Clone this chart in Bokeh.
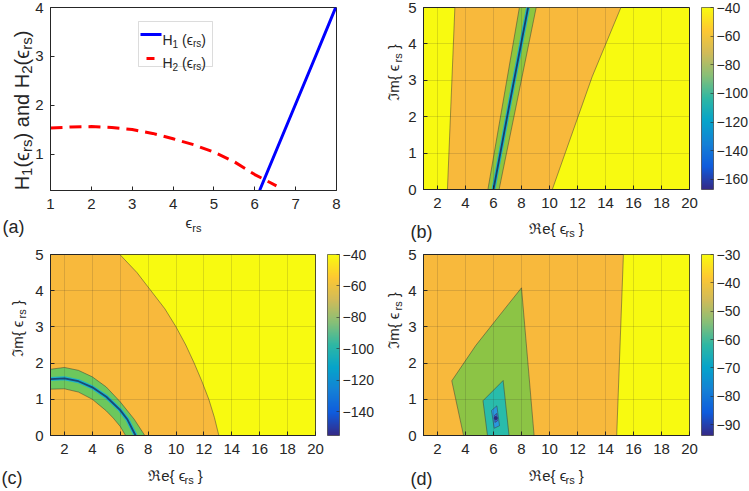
import numpy as np
from bokeh.plotting import figure
from bokeh.layouts import column
from bokeh.models import (ColorBar, LinearColorMapper, FixedTicker, Label,
                          BoxAnnotation, Arrow, Range1d, GridBox)
from bokeh.embed import file_html
from bokeh.resources import INLINE

# ---------------- data ----------------
# (a) the two boundary functions
H1_X = [6.12, 6.5, 7.0, 7.5, 7.98]
H1_Y = [0.27, 1.03, 2.03, 3.03, 4.0]
H2_X = [1.0, 1.5, 2.0, 2.5, 3.0, 3.5, 4.0, 4.5, 5.0, 5.5, 6.0, 6.53]
H2_Y = [1.54, 1.56, 1.57, 1.55, 1.51, 1.43, 1.32, 1.2, 1.05, 0.85, 0.59, 0.36]
A_XTICKS = [1, 2, 3, 4, 5, 6, 7, 8]
A_YTICKS = [1, 2, 3, 4]

# shared axes of the contour maps
RE_TICKS = [2, 4, 6, 8, 10, 12, 14, 16, 18, 20]
IM_TICKS = [0, 1, 2, 3, 4, 5]

# (b) filled contour regions (level boundaries in the complex eps plane)
B_ORANGE_X = [2.71, 3.24, 15.1, 13.05, 10.2]
B_ORANGE_Y = [0, 5, 5, 3.1, 0]
B_GREEN_X = [5.6, 7.85, 9.05, 6.4]
B_GREEN_Y = [0, 5, 5, 0]
B_MIN_X = [6.0, 7.22, 8.47]
B_MIN_Y = [0, 2.5, 5]
B_CBAR_TICKS = [-160, -140, -120, -100, -80, -60, -40]
B_CBAR_RANGE = (-167, -40)

# (c)
C_YELLOW_X = [5.97, 7.2, 8.2, 9.2, 10.0, 10.7, 11.3, 11.85, 12.35, 12.75, 13.07, 20, 20]
C_YELLOW_Y = [5, 4.5, 4, 3.5, 3, 2.5, 2, 1.5, 1, 0.5, 0, 0, 5]
C_OUTER_X = [1, 2, 3, 4, 5, 6, 7, 7.76]
C_OUTER_Y = [1.83, 1.88, 1.80, 1.62, 1.34, 0.93, 0.45, 0]
C_INNER_X = [1, 2, 3, 4, 5, 5.5, 6, 6.38]
C_INNER_Y = [1.28, 1.29, 1.2, 1.0, 0.68, 0.48, 0.25, 0]
C_MIN_X = [1, 2, 3, 4, 5, 6, 6.5, 7.1]
C_MIN_Y = [1.56, 1.58, 1.5, 1.33, 1.07, 0.7, 0.45, 0]
C_CBAR_TICKS = [-140, -120, -100, -80, -60, -40]
C_CBAR_RANGE = (-155, -40)

# (d)
D_YELLOW_X = [14.8, 15.28, 20, 20]
D_YELLOW_Y = [0, 5, 5, 0]
D_GREEN_X = [3.86, 3.02, 4.74, 6.64, 8.0, 8.45, 8.9]
D_GREEN_Y = [0, 1.51, 2.49, 3.42, 4.08, 2.04, 0]
D_CYAN_X = [5.57, 5.25, 6.69, 7.11]
D_CYAN_Y = [0, 0.96, 1.52, 0]
D_BLUE_X = [6.05, 5.86, 6.24, 6.43]
D_BLUE_Y = [0.2, 0.69, 0.82, 0.27]
D_DEEP_X = [6.1, 6.07, 6.24, 6.28]
D_DEEP_Y = [0.36, 0.56, 0.61, 0.4]
D_MIN_X = [6.16]
D_MIN_Y = [0.48]
D_CBAR_TICKS = [-90, -80, -70, -60, -50, -40, -30]
D_CBAR_RANGE = (-93.8, -30)

# ---------------- style ----------------
FONT = "Liberation Sans"
INK = "#262626"
YELLOW = "#f8fa10"
ORANGE = "#f8b93c"
EDGE = "#3a3a3a"
PAGE_W, PAGE_H = 749, 491

PARULA_KEYS = ["#352a87", "#0f5cdd", "#1481d6", "#06a4ca", "#2eb7a4",
               "#87bf77", "#d1bb59", "#fec832", "#f9fb0e"]


def make_palette(keys, n=256):
    rgb = np.array([[int(h[i:i + 2], 16) for i in (1, 3, 5)] for h in keys], float)
    pos = np.linspace(0, 1, len(keys))
    out = []
    for t in np.linspace(0, 1, n):
        c = [int(round(np.interp(t, pos, rgb[:, k]))) for k in range(3)]
        out.append("#%02x%02x%02x" % tuple(c))
    return out


PARULA = make_palette(PARULA_KEYS)

# approximate advance widths (em) used to lay out labels with subscripts
CW = {'H': 0.722, '(': 0.333, ')': 0.333, ' ': 0.278, 'a': 0.556, 'n': 0.556,
      'd': 0.556, '1': 0.556, '2': 0.556, 'r': 0.333, 's': 0.5, 'e': 0.556,
      'm': 0.833, '{': 0.334, '}': 0.334, '\u03f5': 0.45, '\u211c': 0.80,
      '\u2111': 0.66}


def tw(s, size):
    return sum(CW.get(c, 0.55) for c in s) * size


def rich_label(p, cx, cy, parts, angle=0.0, color=INK, units="screen"):
    """Lay out (text, size, baseline shift) pieces centred on cx / cy.
    Surrounding blanks of a piece only advance the pen (SVG drops them)."""
    total = sum(tw(t, s) for t, s, _ in parts)
    pos = -total / 2.0
    for t, s, sh in parts:
        core = t.strip(" ")
        lead = len(t) - len(t.lstrip(" "))
        pos += tw(" " * lead, s)
        if angle == 0:
            x, y = cx + pos, cy + sh
        else:
            x, y = cx - sh, cy + pos
        if core:
            p.add_layout(Label(x=x, y=y, x_units=units, y_units=units, text=core,
                               text_font=FONT, text_font_size="%dpx" % s,
                               text_color=color, text_align="left",
                               text_baseline="alphabetic", angle=angle))
        pos += tw(t[lead:], s)


def eps_parts(prefix, size=15, sub=11, drop=4):
    return [(prefix + " \u03f5", size, 0), ("rs", sub, -drop), (" }", size, 0)]


def make_fig(fw, fh, bl, br, bt, bb, xr, yr, xt, yt):
    p = figure(frame_width=fw, frame_height=fh, x_range=Range1d(*xr),
               y_range=Range1d(*yr), output_backend="svg", toolbar_location=None,
               min_border_left=bl, min_border_right=br, min_border_top=bt,
               min_border_bottom=bb)
    p.background_fill_color = "white"
    p.border_fill_color = None
    p.outline_line_color = INK
    p.outline_line_width = 1
    p.xaxis.ticker = FixedTicker(ticks=xt)
    p.yaxis.ticker = FixedTicker(ticks=yt)
    for ax in p.axis:
        ax.axis_line_color = INK
        ax.major_tick_line_color = INK
        ax.major_tick_in = 4
        ax.major_tick_out = 0
        ax.minor_tick_line_color = None
        ax.major_label_text_font = FONT
        ax.major_label_text_font_size = "15px"
        ax.major_label_text_color = INK
    p.xaxis.major_label_standoff = 8
    p.yaxis.major_label_standoff = 7
    return p


def add_colorbar(p, rng, ticks):
    mapper = LinearColorMapper(palette=PARULA, low=rng[0], high=rng[1])
    cb = ColorBar(color_mapper=mapper, ticker=FixedTicker(ticks=ticks),
                  width=12, margin=0, padding=0, location=(12, 0),
                  bar_line_color=INK, bar_line_width=0.6,
                  major_tick_in=3, major_tick_out=0,
                  major_tick_line_color=INK, major_tick_line_alpha=0.6,
                  label_standoff=3, major_label_text_font=FONT,
                  major_label_text_font_size="14px",
                  major_label_text_color=INK,
                  border_line_color=None, background_fill_color=None)
    p.add_layout(cb, "right")
    return cb


def map_grid(p):
    p.grid.grid_line_color = INK
    p.grid.grid_line_alpha = 0.15
    p.grid.level = "guide"


# ---------------- (a) ----------------
pa = make_fig(286, 183, 50, 39, 7, 55, (1, 8), (0.265, 4.0), A_XTICKS, A_YTICKS)
pa.grid.grid_line_color = None
pa.line(H1_X, H1_Y, line_color="#0000ff", line_width=3)
pa.line(H2_X, H2_Y, line_color="#ff0000", line_width=3, line_dash="12 7")

# legend box, keys and entries
pa.add_layout(BoxAnnotation(left=88, right=162, top=169, bottom=124,
                            left_units="screen", right_units="screen",
                            top_units="screen", bottom_units="screen",
                            fill_color="white", fill_alpha=1.0,
                            line_color="#8c8c8c", line_width=1))
pa.add_layout(Arrow(x_start=90, y_start=156, x_end=111, y_end=156,
                    start_units="screen", end_units="screen", start=None, end=None,
                    line_color="#0000ff", line_width=3))
pa.add_layout(Arrow(x_start=90, y_start=132, x_end=111, y_end=132,
                    start_units="screen", end_units="screen", start=None, end=None,
                    line_color="#ff0000", line_width=3, line_dash="0 6 8 20"))
for idx, yb in (("1", 151), ("2", 128)):
    parts = [("H", 14, 0), (idx, 10, -4), (" (\u03f5", 14, 0), ("rs", 10, -4), (")", 14, 0)]
    total = sum(tw(t, s) for t, s, _ in parts)
    rich_label(pa, 112 + total / 2.0, yb, parts)

# ---------------- (b) ----------------
pb = make_fig(266, 182, 48, 60, 6, 57, (1, 20), (0, 5), RE_TICKS, IM_TICKS)
pb.background_fill_color = YELLOW
map_grid(pb)
pb.patch(B_ORANGE_X, B_ORANGE_Y, fill_color=ORANGE, line_color=EDGE, line_width=0.7, line_alpha=0.7)
pb.patch(B_GREEN_X, B_GREEN_Y, fill_color="#8dc63f", line_color=EDGE, line_width=0.7, line_alpha=0.7)
pb.line(B_MIN_X, B_MIN_Y, line_color="#1fb4c4", line_width=4)
pb.line(B_MIN_X, B_MIN_Y, line_color="#173f6e", line_width=1.8)
add_colorbar(pb, B_CBAR_RANGE, B_CBAR_TICKS)

# ---------------- (c) ----------------
pc = make_fig(265, 181, 42, 68, 9, 56, (1, 20), (0, 5), RE_TICKS, IM_TICKS)
pc.background_fill_color = ORANGE
map_grid(pc)
pc.patch(C_YELLOW_X, C_YELLOW_Y, fill_color=YELLOW, line_color=EDGE, line_width=0.7, line_alpha=0.7)
pc.patch(C_OUTER_X + C_INNER_X[::-1], C_OUTER_Y + C_INNER_Y[::-1],
         fill_color="#6cc85d", line_color=EDGE, line_width=0.7, line_alpha=0.7)
pc.line(C_MIN_X, C_MIN_Y, line_color="#1fb4c8", line_width=4)
pc.line(C_MIN_X, C_MIN_Y, line_color="#174a78", line_width=1.8)
add_colorbar(pc, C_CBAR_RANGE, C_CBAR_TICKS)

# ---------------- (d) ----------------
pd_ = make_fig(266, 181, 48, 60, 9, 56, (1, 20), (0, 5), RE_TICKS, IM_TICKS)
pd_.background_fill_color = ORANGE
map_grid(pd_)
pd_.patch(D_YELLOW_X, D_YELLOW_Y, fill_color=YELLOW, line_color=EDGE, line_width=0.7, line_alpha=0.7)
pd_.patch(D_GREEN_X, D_GREEN_Y, fill_color="#8cc445", line_color=EDGE, line_width=0.7, line_alpha=0.7)
pd_.patch(D_CYAN_X, D_CYAN_Y, fill_color="#29bcab", line_color=EDGE, line_width=0.7, line_alpha=0.7)
pd_.patch(D_BLUE_X, D_BLUE_Y, fill_color="#2a97de", line_color=EDGE, line_width=0.7, line_alpha=0.7)
pd_.patch(D_DEEP_X, D_DEEP_Y, fill_color="#3d5fe0", line_color=EDGE, line_width=0.7, line_alpha=0.7)
pd_.scatter(D_MIN_X, D_MIN_Y, size=3, color="#2b2a7a")
add_colorbar(pd_, D_CBAR_RANGE, D_CBAR_TICKS)

# ---------------- page-wide text layer: axis titles and panel tags ----------------
tags = figure(width=PAGE_W, height=PAGE_H, x_range=Range1d(0, PAGE_W),
              y_range=Range1d(0, PAGE_H), output_backend="svg", toolbar_location=None,
              x_axis_type=None, y_axis_type=None, min_border=0,
              min_border_left=0, min_border_right=0, min_border_top=0,
              min_border_bottom=0)
tags.background_fill_color = None
tags.border_fill_color = None
tags.outline_line_color = None


def at(x, y_from_top):
    return x, PAGE_H - y_from_top


# (a)
rich_label(tags, *at(193, 222), [("\u03f5", 15, 0), ("rs", 11, -5)], units="data")
rich_label(tags, *at(21, 110),
           [("H", 20, 0), ("1", 15, -5), ("(\u03f5", 20, 0), ("rs", 15, -5), (")", 20, 0),
            (" and ", 20, 0), ("H", 20, 0), ("2", 15, -5), ("(\u03f5", 20, 0),
            ("rs", 15, -5), (")", 20, 0)], angle=np.pi / 2, units="data")
# (b)
rich_label(tags, *at(556, 228), eps_parts("\u211ce{"), units="data")
rich_label(tags, *at(393, 72), eps_parts("\u2111m{"), angle=np.pi / 2, units="data")
# (c)
rich_label(tags, *at(175, 475), eps_parts("\u211ce{"), units="data")
rich_label(tags, *at(17, 328), eps_parts("\u2111m{"), angle=np.pi / 2, units="data")
# (d)
rich_label(tags, *at(556, 475), eps_parts("\u211ce{"), units="data")
rich_label(tags, *at(393, 320), eps_parts("\u2111m{"), angle=np.pi / 2, units="data")

for tag, lx, ly in (("(a)", 2, 226), ("(b)", 410, 231), ("(c)", 1, 477), ("(d)", 410, 478)):
    x, y = at(lx, ly)
    tags.add_layout(Label(x=x, y=y, text=tag, text_font=FONT, text_font_size="18px",
                          text_color=INK, text_baseline="alphabetic"))

layout = GridBox(children=[(pa, 0, 0), (pb, 0, 1), (pc, 1, 0), (pd_, 1, 1),
                           (column(tags), 0, 0, 2, 2)], spacing=0)
open("out.html", "w").write(file_html(layout, INLINE))
